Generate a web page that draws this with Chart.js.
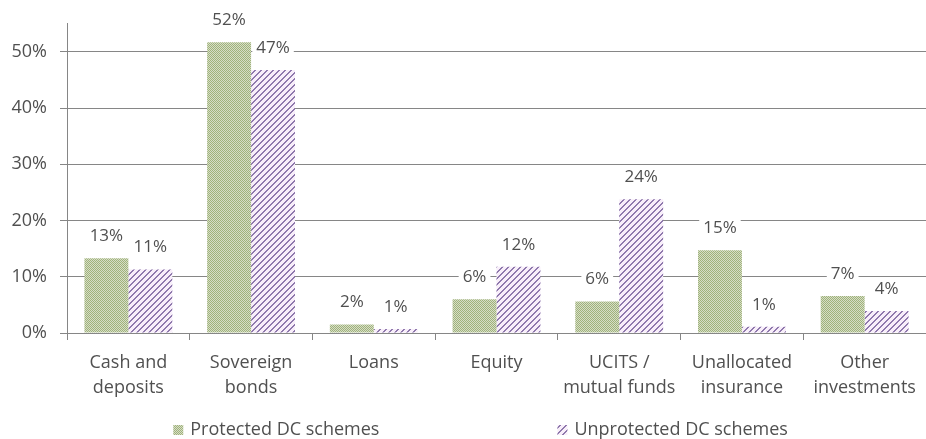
<!DOCTYPE html>
<html>
<head>
<meta charset="utf-8">
<script src="https://cdn.jsdelivr.net/npm/chart.js@4"></script>
<style>
	html, body { margin: 0; padding: 0; background: #fff; }
	#wrap { width: 926px; height: 439px; }
</style>
</head>
<body>
<div id="wrap"><canvas id="barras"></canvas></div>
<script>
const categorias = [
	['Cash and', 'deposits'],
	['Sovereign', 'bonds'],
	'Loans',
	'Equity',
	['UCITS /', 'mutual funds'],
	['Unallocated', 'insurance'],
	['Other', 'investments']
];
const protegidos = [13.3, 51.7, 1.5, 6.0, 5.6, 14.7, 6.6];
const desprotegidos = [11.3, 46.8, 0.7, 11.8, 23.8, 1.1, 3.9];
const series = ['Protected DC schemes', 'Unprotected DC schemes'];
const yTicks = [0, 10, 20, 30, 40, 50];

const FONT = "'Open Sans', 'Noto Sans', sans-serif";
const TEXT = '#505050';
const GRID = '#868686';

// green small checkerboard
function padraoVerde() {
	const c = document.createElement('canvas');
	c.width = 2; c.height = 2;
	const g = c.getContext('2d');
	g.fillStyle = '#d6ddc8'; g.fillRect(0, 0, 2, 2);
	g.fillStyle = '#a0b37a'; g.fillRect(0, 0, 1, 1); g.fillRect(1, 1, 1, 1);
	return g.createPattern(c, 'repeat');
}

// purple diagonal stripes "//"
function padraoRoxo() {
	const n = 6;
	const c = document.createElement('canvas');
	c.width = n; c.height = n;
	const g = c.getContext('2d');
	for (let x = 0; x < n; x++) {
		for (let y = 0; y < n; y++) {
			g.fillStyle = ((x + y) % n) < 2 ? '#8f79ad' : '#f8eefa';
			g.fillRect(x, y, 1, 1);
		}
	}
	return g.createPattern(c, 'repeat');
}

const verde = padraoVerde();
const roxo = padraoRoxo();

const rotulos = {
	id: 'rotulos',
	afterDatasetsDraw(chart) {
		const ctx = chart.ctx;
		ctx.save();
		ctx.font = '17px ' + FONT;
		ctx.textAlign = 'center';
		ctx.textBaseline = 'middle';
		chart.data.datasets.forEach((ds, i) => {
			chart.getDatasetMeta(i).data.forEach((bar, j) => {
				const txt = Math.round(ds.data[j]) + '%';
				const w = ctx.measureText(txt).width;
				const y = bar.y - 22;
				ctx.fillStyle = '#fff';
				ctx.fillRect(bar.x - w / 2 - 4, y - 10, w + 8, 20);
				ctx.fillStyle = TEXT;
				ctx.fillText(txt, bar.x, y);
			});
		});
		ctx.restore();
	}
};

const legenda = {
	id: 'legenda',
	afterDraw(chart) {
		const ctx = chart.ctx;
		ctx.save();
		ctx.font = '18px ' + FONT;
		ctx.textBaseline = 'middle';
		const caixa = 10, espaco = 7, gap = 178;
		const larg = series.map(s => caixa + espaco + ctx.measureText(s).width);
		const total = larg[0] + gap + larg[1];
		let x = chart.width * 0.519 - total / 2;
		const y = 430;
		const fills = [verde, roxo];
		series.forEach((s, i) => {
			ctx.fillStyle = fills[i];
			ctx.fillRect(x, y - caixa / 2, caixa, caixa);
			ctx.fillStyle = TEXT;
			ctx.fillText(s, x + caixa + espaco, y);
			x += larg[i] + gap;
		});
		ctx.restore();
	}
};

new Chart(document.getElementById('barras'), {
	type: 'bar',
	data: {
		labels: categorias,
		datasets: [{
			label: series[0],
			data: protegidos,
			backgroundColor: verde,
			borderWidth: 0,
			barPercentage: 1,
			categoryPercentage: 0.716
		}, {
			label: series[1],
			data: desprotegidos,
			backgroundColor: roxo,
			borderWidth: 0,
			barPercentage: 1,
			categoryPercentage: 0.716
		}]
	},
	options: {
		responsive: true,
		maintainAspectRatio: false,
		animation: false,
		layout: { padding: { top: 22, right: 0, left: 0, bottom: 0 } },
		scales: {
			x: {
				grid: {
					offset: true,
					drawOnChartArea: false,
					drawTicks: true,
					tickLength: 7,
					color: GRID
				},
				border: { color: GRID, width: 1 },
				ticks: {
					color: TEXT,
					font: { family: FONT, size: 18, lineHeight: 1.4 },
					padding: 10,
					maxRotation: 0,
					autoSkip: false
				},
				afterFit(axis) { axis.height = 106; }
			},
			y: {
				min: 0,
				max: 55,
				afterBuildTicks(axis) {
					axis.ticks = yTicks.map(v => ({ value: v }));
				},
				grid: {
					color: GRID,
					drawTicks: true,
					tickLength: 7
				},
				border: { color: GRID, width: 1 },
				ticks: {
					color: TEXT,
					font: { family: FONT, size: 18 },
					padding: 13,
					callback: v => v + '%'
				},
				afterFit(axis) { axis.width = 67; }
			}
		},
		plugins: {
			legend: { display: false },
			tooltip: { enabled: false }
		}
	},
	plugins: [rotulos, legenda]
});
</script>
</body>
</html>
